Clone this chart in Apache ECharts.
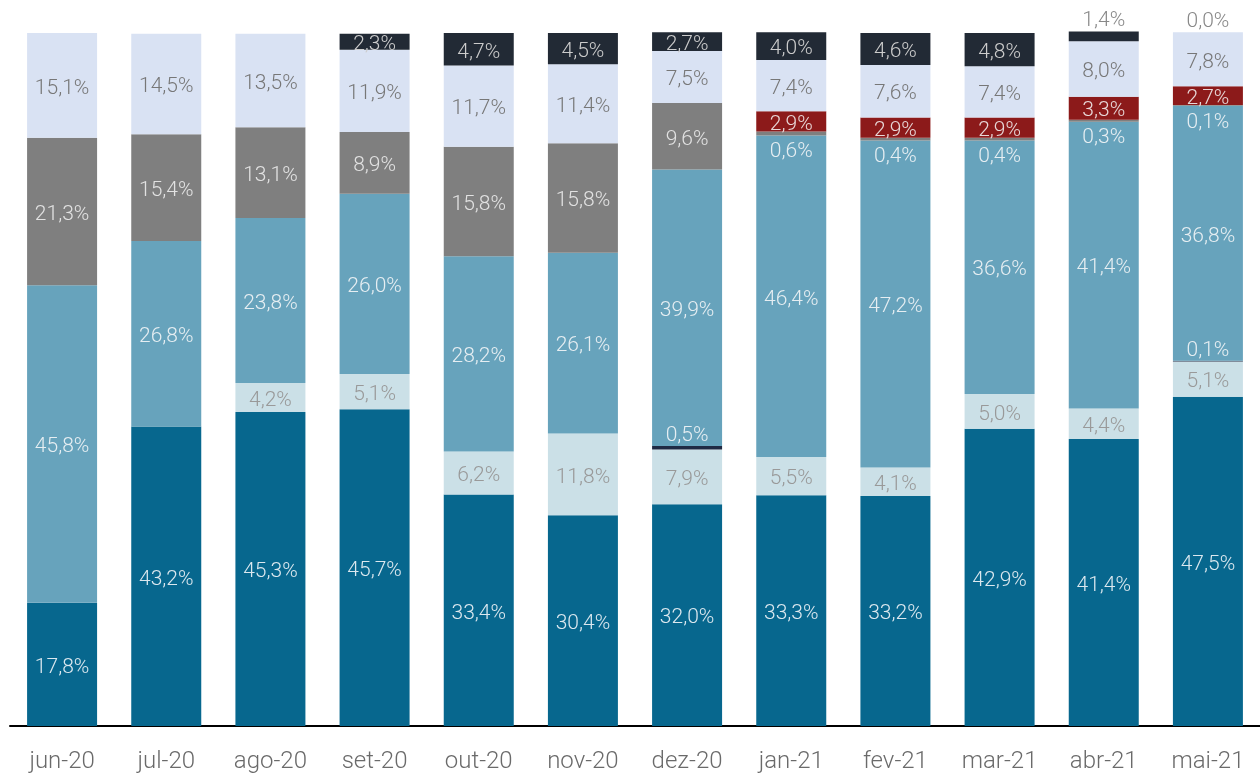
<!DOCTYPE html>
<html>
<head>
<meta charset="utf-8">
<script src="https://cdn.jsdelivr.net/npm/echarts@6/dist/echarts.min.js"></script>
<style>
html,body{margin:0;padding:0;background:#fff;}
#chart{width:1260px;height:774px;}
</style>
</head>
<body>
<div id="chart"></div>
<script>
const categories = ['jun-20','jul-20','ago-20','set-20','out-20','nov-20','dez-20','jan-21','fev-21','mar-21','abr-21','mai-21'];

const darkBlue = [17.8, 43.2, 45.3, 45.7, 33.4, 30.4, 32.0, 33.3, 33.2, 42.9, 41.4, 47.5];
const lightBlue = [null, null, 4.2, 5.1, 6.2, 11.8, 7.9, 5.5, 4.1, 5.0, 4.4, 5.1];
const navyLine = [null, null, null, null, null, null, 0.5, null, null, null, null, 0.1];
const midBlue = [45.8, 26.8, 23.8, 26.0, 28.2, 26.1, 39.9, 46.4, 47.2, 36.6, 41.4, 36.8];
const grayPart = [21.3, 15.4, 13.1, 8.9, 15.8, 15.8, 9.6, 0.6, 0.4, 0.4, 0.3, 0.1];
const redPart = [null, null, null, null, null, null, null, 2.9, 2.9, 2.9, 3.3, 2.7];
const paleBlue = [15.1, 14.5, 13.5, 11.9, 11.7, 11.4, 7.5, 7.4, 7.6, 7.4, 8.0, 7.8];
const darkTop = [null, null, null, 2.3, 4.7, 4.5, 2.7, 4.0, 4.6, 4.8, 1.4, 0.0];

const FONT = 'Roboto';
const fmt = v => v.toFixed(1).replace('.', ',') + '%';

function mk(name, data, color, textColor, smallRule) {
  return {
    name: name,
    type: 'bar',
    stack: 'total',
    barWidth: 70,
    clip: false,
    itemStyle: { color: color },
    label: {
      show: true,
      position: 'inside',
      offset: [0, 3],
      color: textColor,
      fontFamily: FONT,
      fontWeight: 300,
      fontSize: 21,
      formatter: p => fmt(p.value)
    },
    data: data.map(v => {
      if (v === null) return null;
      if (smallRule && smallRule.test(v)) {
        return { value: v, label: smallRule.label };
      }
      return v;
    })
  };
}

const chart = echarts.init(document.getElementById('chart'), null, { renderer: 'canvas' });
chart.setOption({
  animation: false,
  grid: { left: 10, right: 0, top: 33, bottom: 48, containLabel: false },
  xAxis: {
    type: 'category',
    data: categories,
    axisLine: { lineStyle: { color: '#000', width: 2 } },
    axisTick: { show: false },
    axisLabel: { color: '#6a6a6a', fontFamily: FONT, fontWeight: 300, fontSize: 24, margin: 24 }
  },
  yAxis: { type: 'value', min: 0, max: 100, show: false, splitLine: { show: false } },
  series: [
    mk('s1', darkBlue, '#07678E', '#DCE8EF'),
    mk('s2', lightBlue, '#CBE0E7', '#999'),
    mk('s3', navyLine, '#1F2A44', '#E6EEF2', { test: v => v < 1, label: { position: 'top', distance: 3, color: '#E6EEF2' } }),
    mk('s4', midBlue, '#67A3BC', '#E6EEF2'),
    mk('s5', grayPart, '#7F7F7F', '#E2E2E2', { test: v => v < 1, label: { position: 'bottom', distance: 3, color: '#E6EEF2' } }),
    mk('s6', redPart, '#8C1A1A', '#E8D8D8'),
    mk('s7', paleBlue, '#D9E2F3', '#777'),
    mk('s8', darkTop, '#222A35', '#CCCCCC', { test: v => v < 2, label: { position: 'top', distance: 3, color: '#888' } })
  ]
});
</script>
</body>
</html>
